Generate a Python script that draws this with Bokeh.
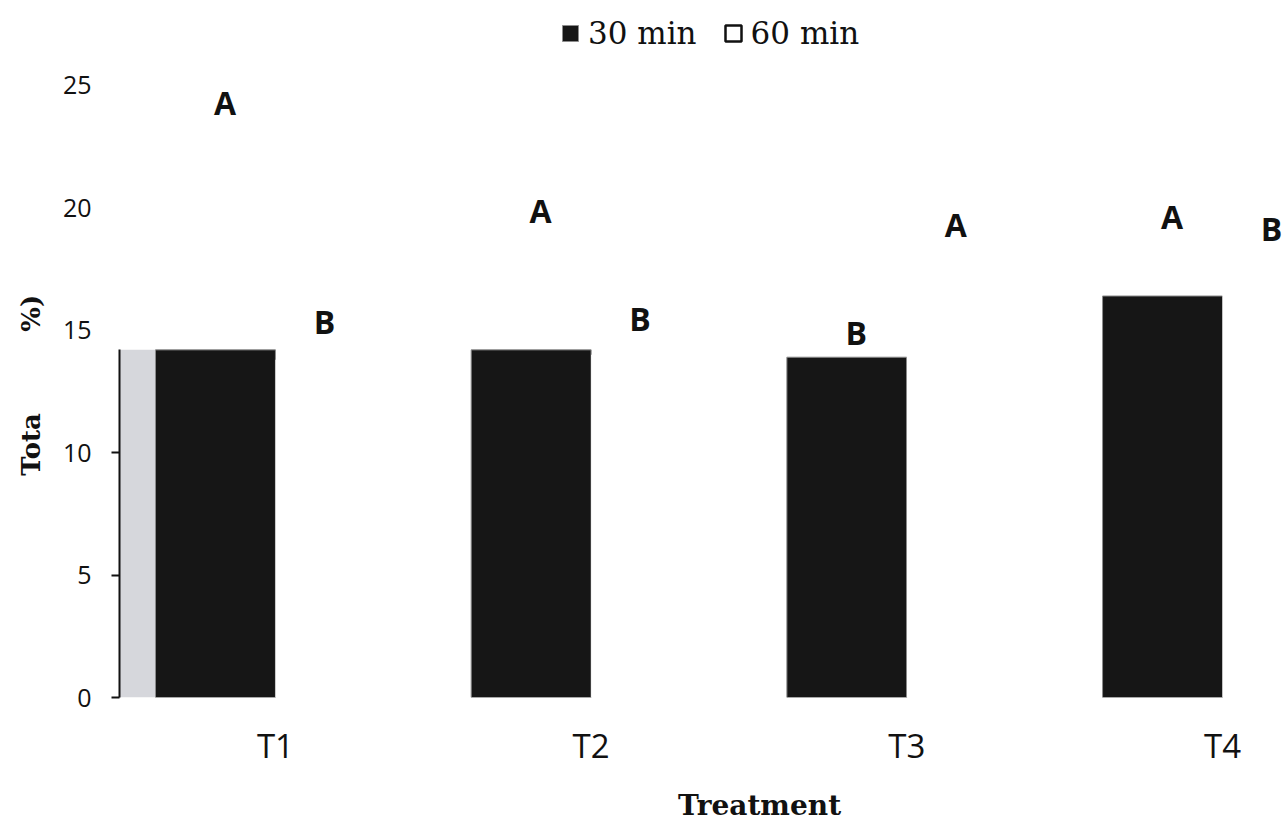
from bokeh.plotting import figure
from bokeh.models import (Range1d, LinearAxis, FixedTicker, Legend, LegendItem,
                          BoxAnnotation)
from bokeh.core.properties import value
from bokeh.embed import file_html
from bokeh.resources import INLINE

# ---------------- data ----------------
treatments = ["T1", "T2", "T3", "T4"]
min30 = [14.2, 14.2, 13.9, 16.4]          # 30 min (black bars)
min60 = [13.8, 14.0, 17.8, 17.7]          # 60 min (white bars, invisible on white)
letters30 = ["A", "A", "B", "A"]
letters30_y = [24.3, 19.9, 14.9, 19.65]
letters60 = ["B", "B", "A", "B"]
letters60_y = [15.35, 15.5, 19.3, 19.15]
y_ticks = [0, 5, 10, 15, 20, 25]

# ---------------- layout helpers ----------------
BAR_W = 0.38
LET_OFF_30 = 0.16
LET_OFF_60 = 0.155
idx = [i + 1 for i in range(len(treatments))]
x30 = [i - BAR_W / 2 for i in idx]
x60 = [i + BAR_W / 2 for i in idx]
nan = float("nan")
NB = "\u00a0"

p = figure(width=1282, height=824,
           x_range=Range1d(0.506, 4.19), y_range=Range1d(0, 28.47),
           output_backend="svg", toolbar_location=None,
           y_axis_location=None,
           min_border_left=119, min_border_right=0,
           min_border_top=0, min_border_bottom=127)
p.xgrid.visible = False
p.ygrid.visible = False
p.outline_line_color = None
p.background_fill_color = "white"

# scanned grey strip to the left of T1
p.add_layout(BoxAnnotation(right=1 - BAR_W, top=min30[0], bottom=0,
                           fill_color="#d6d7dc", fill_alpha=1,
                           line_color=None, level="underlay"))

r30 = p.vbar(x=x30, top=min30, width=BAR_W, fill_color="#161616",
             line_color="#8c8c8c", line_width=1)
r60 = p.vbar(x=x60, top=min60, width=BAR_W, fill_color="white",
             line_color=None)
proxy60 = p.vbar(x=[nan], top=[nan], width=BAR_W, fill_color="white",
                 line_color="#111111", line_width=2.5)

p.text(x=[i - LET_OFF_30 for i in idx], y=letters30_y, text=letters30,
       text_align="center", text_baseline="middle",
       text_font=value("Open Sans"), text_font_size="32px",
       text_font_style="bold", text_color="#111111")
p.text(x=[i + LET_OFF_60 for i in idx], y=letters60_y, text=letters60,
       text_align="center", text_baseline="middle",
       text_font=value("Open Sans"), text_font_size="32px",
       text_font_style="bold", text_color="#111111")

# x axis
xa = p.xaxis[0]
xa.ticker = FixedTicker(ticks=idx)
xa.major_label_overrides = {i: t for i, t in zip(idx, treatments)}
xa.axis_line_color = None
xa.major_tick_line_color = None
xa.minor_tick_line_color = None
xa.major_label_text_font = "Open Sans"
xa.major_label_text_font_size = "33px"
xa.major_label_text_color = "#111111"
xa.major_label_standoff = 19
xa.axis_label = NB * 12 + "Treatment"
xa.axis_label_text_font = "DejaVu Serif"
xa.axis_label_text_font_style = "bold"
xa.axis_label_text_font_size = "28px"
xa.axis_label_text_color = "#111111"
xa.axis_label_standoff = 18

# y axis: short line with ticks (only up to T1 bar height)
line_ticks = [t for t in y_ticks if t <= min30[0]]
line_axis = LinearAxis(bounds=(0, min30[0]), ticker=FixedTicker(ticks=line_ticks),
                       major_label_overrides={t: "" for t in line_ticks},
                       major_label_standoff=0,
                       major_tick_out=8, major_tick_in=0,
                       minor_tick_line_color=None,
                       axis_line_width=2, axis_line_color="#111111",
                       major_tick_line_width=2, major_tick_line_color="#111111")
label_axis = LinearAxis(ticker=FixedTicker(ticks=y_ticks),
                        axis_line_color=None, major_tick_line_color=None,
                        minor_tick_line_color=None,
                        major_label_standoff=14,
                        major_label_text_font="Open Sans",
                        major_label_text_font_size="25px",
                        major_label_text_color="#111111",
                        axis_label="Tota" + NB * 9 + "%)" + NB * 8,
                        axis_label_text_font="DejaVu Serif",
                        axis_label_text_font_style="bold",
                        axis_label_text_font_size="26px",
                        axis_label_text_color="#111111",
                        axis_label_standoff=14)
p.add_layout(line_axis, "left")
p.add_layout(label_axis, "left")

legend = Legend(items=[LegendItem(label="30 min", renderers=[r30]),
                       LegendItem(label="60 min", renderers=[proxy60])],
                orientation="horizontal", location=(441, 646),
                label_text_font="DejaVu Serif", label_text_font_size="31px",
                label_text_color="#111111",
                glyph_width=20, glyph_height=20, spacing=26, label_standoff=8,
                border_line_color=None, background_fill_alpha=0,
                padding=4, margin=0)
p.add_layout(legend, "center")

open("out.html", "w").write(file_html(p, INLINE))
